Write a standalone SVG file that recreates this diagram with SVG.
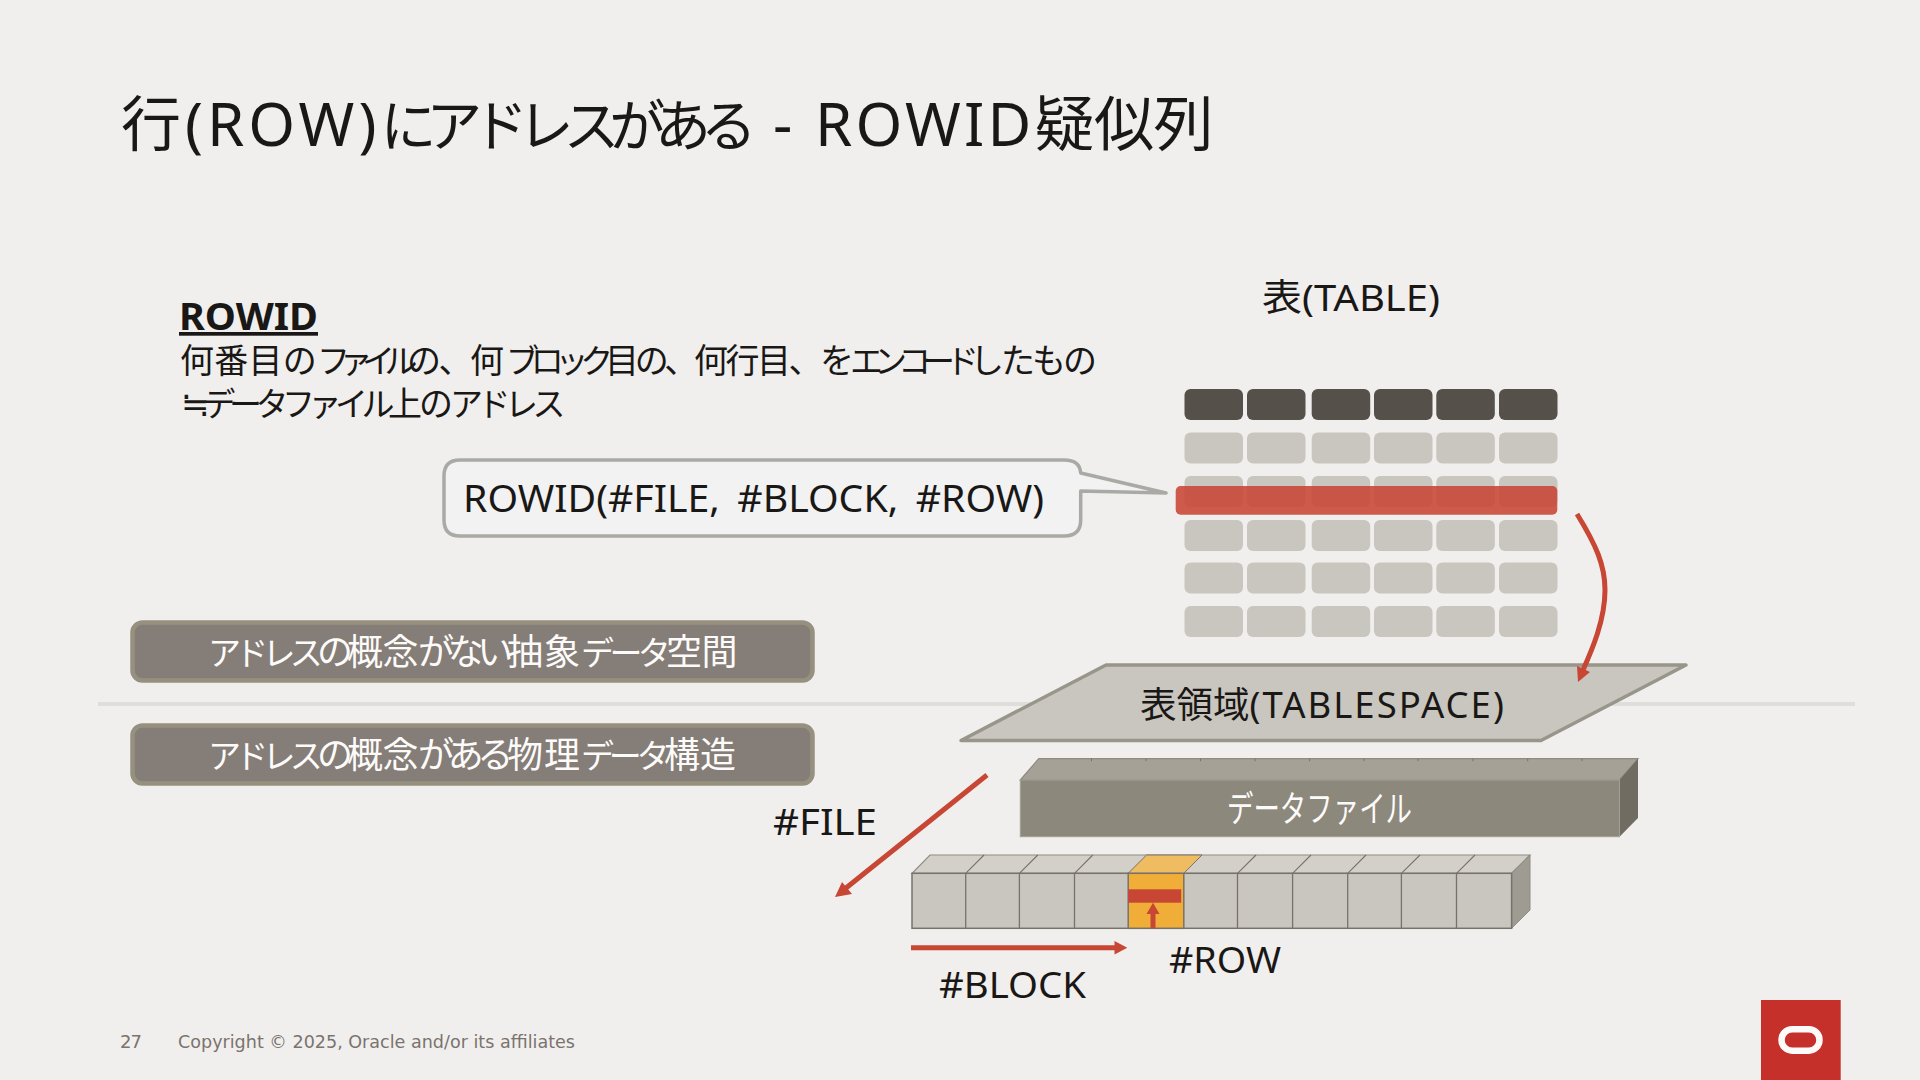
<svg xmlns="http://www.w3.org/2000/svg" xmlns:xlink="http://www.w3.org/1999/xlink" width="1920" height="1080" viewBox="0 0 1920 1080">
<defs>
<style>
text{font-family:"Noto Sans","Noto Sans CJK JP","DejaVu Sans",sans-serif;fill:#1a1816}
.w{fill:#fcfbf9}
.h{fill:#55504a}
.c{fill:#c9c6bf}
.btn{fill:#857d77;stroke:#96917f;stroke-width:4.500}
.bf{fill:#c9c6bf;stroke:#77736b;stroke-width:1.5}
.bt{fill:#d3d0ca;stroke:#8f8b82;stroke-width:1.2}
.red{stroke:#c74634;fill:none;stroke-width:5}
.redf{fill:#c74634}
</style>
<rect id="hc" class="h" width="58.5" height="31" rx="6"/>
<rect id="cc" class="c" width="58.5" height="31" rx="6"/>
</defs>
<rect id="background" width="1920" height="1080" fill="#f1efed"/>
<text id="title" x="121" y="146" font-size="60"><tspan letter-spacing="4">行(ROW)</tspan><tspan font-size="56" letter-spacing="-10.250">にアドレスがある</tspan><tspan letter-spacing="6"> </tspan><tspan dx="5" letter-spacing="3.500">- </tspan><tspan letter-spacing="3.200">ROWID</tspan><tspan letter-spacing="-.5">疑似列</tspan></text>
<g id="description">
<text x="179" y="330" font-size="37" font-weight="700" text-decoration="underline" textLength="139" lengthAdjust="spacingAndGlyphs">ROWID</text>
<text x="180" y="373" font-size="34"><tspan letter-spacing=".25">何番目の</tspan><tspan font-size="33" letter-spacing="-10.500">ファイル</tspan><tspan letter-spacing="-2.500">の、</tspan><tspan letter-spacing="2">何</tspan><tspan font-size="33" letter-spacing="-8.250">ブロック</tspan><tspan letter-spacing="-4.330">目の、</tspan><tspan letter-spacing="-2.500">何行目、</tspan><tspan letter-spacing="-4">を</tspan><tspan font-size="33" letter-spacing="-9">エンコード</tspan><tspan letter-spacing="-3">したもの</tspan></text>
<text x="181" y="416" font-size="34"><tspan letter-spacing="-7">≒</tspan><tspan font-size="33" letter-spacing="-6.500">データファイル</tspan><tspan letter-spacing="-3">上の</tspan><tspan font-size="33" letter-spacing="-5.500">アドレス</tspan></text>
</g>
<text id="table-label" x="1262" y="311" font-size="37" textLength="178" lengthAdjust="spacingAndGlyphs">表(TABLE)</text>
<g id="table">
<use xlink:href="#hc" x="1184.5" y="389"/><use xlink:href="#hc" x="1247" y="389"/><use xlink:href="#hc" x="1311.7" y="389"/><use xlink:href="#hc" x="1374" y="389"/><use xlink:href="#hc" x="1436.3" y="389"/><use xlink:href="#hc" x="1499" y="389"/>
<use xlink:href="#cc" x="1184.5" y="432.5"/><use xlink:href="#cc" x="1247" y="432.5"/><use xlink:href="#cc" x="1311.7" y="432.5"/><use xlink:href="#cc" x="1374" y="432.5"/><use xlink:href="#cc" x="1436.3" y="432.5"/><use xlink:href="#cc" x="1499" y="432.5"/>
<use xlink:href="#cc" x="1184.5" y="476"/><use xlink:href="#cc" x="1247" y="476"/><use xlink:href="#cc" x="1311.7" y="476"/><use xlink:href="#cc" x="1374" y="476"/><use xlink:href="#cc" x="1436.3" y="476"/><use xlink:href="#cc" x="1499" y="476"/>
<use xlink:href="#cc" x="1184.5" y="520"/><use xlink:href="#cc" x="1247" y="520"/><use xlink:href="#cc" x="1311.7" y="520"/><use xlink:href="#cc" x="1374" y="520"/><use xlink:href="#cc" x="1436.3" y="520"/><use xlink:href="#cc" x="1499" y="520"/>
<use xlink:href="#cc" x="1184.5" y="562.5"/><use xlink:href="#cc" x="1247" y="562.5"/><use xlink:href="#cc" x="1311.7" y="562.5"/><use xlink:href="#cc" x="1374" y="562.5"/><use xlink:href="#cc" x="1436.3" y="562.5"/><use xlink:href="#cc" x="1499" y="562.5"/>
<use xlink:href="#cc" x="1184.5" y="606"/><use xlink:href="#cc" x="1247" y="606"/><use xlink:href="#cc" x="1311.7" y="606"/><use xlink:href="#cc" x="1374" y="606"/><use xlink:href="#cc" x="1436.3" y="606"/><use xlink:href="#cc" x="1499" y="606"/>
<rect x="1175.7" y="486" width="381.6" height="28.7" rx="5" fill="#c74634" fill-opacity=".88"/>
</g>
<g id="rowid-callout">
<path d="M460 460H1064Q1080 460 1080.7 473L1166 493L1080.7 491V520Q1080.7 536 1064 536H460Q444 536 444 520V476Q444 460 460 460Z" fill="#f2f2f2" stroke="#a9a9a5" stroke-width="3.5" stroke-linejoin="round"/>
<text x="463" y="512" font-size="38" word-spacing="7" textLength="581" lengthAdjust="spacingAndGlyphs">ROWID(#FILE, #BLOCK, #ROW)</text>
</g>
<rect id="divider" x="98" y="702" width="1757" height="4" fill="#dfdedb"/>
<g id="abstract-label">
<rect class="btn" x="132.500" y="622.500" width="680" height="58" rx="10"/>
<text class="w" x="208" y="665" font-size="36"><tspan font-size="33" letter-spacing="-5.750">アドレス</tspan><tspan letter-spacing="-6">の</tspan><tspan letter-spacing="-.5">概念</tspan><tspan letter-spacing="-6.330">がない</tspan><tspan letter-spacing="1">抽象</tspan><tspan font-size="33" letter-spacing="-4.670">データ</tspan><tspan letter-spacing="-.5">空間</tspan></text>
</g>
<g id="physical-label">
<rect class="btn" x="132.500" y="725.500" width="680" height="58" rx="10"/>
<text class="w" x="208" y="768" font-size="36"><tspan font-size="33" letter-spacing="-5.750">アドレス</tspan><tspan letter-spacing="-6">の</tspan><tspan letter-spacing="-.5">概念</tspan><tspan letter-spacing="-6.330">がある</tspan><tspan letter-spacing="1">物理</tspan><tspan font-size="33" letter-spacing="-5.330">データ</tspan><tspan>構造</tspan></text>
</g>
<g id="tablespace">
<path d="M1106 665H1686L1541 740.500H961Z" fill="#c9c6bf" stroke="#98958a" stroke-width="3.500" stroke-linejoin="round"/>
<text x="1140" y="718" font-size="36.500"><tspan>表領域</tspan><tspan letter-spacing="2">(TABLESPACE)</tspan></text>
</g>
<g id="datafile">
<path d="M1020.300 780L1038.700 758.700H1638L1619.500 780Z" fill="#a5a197" stroke="#8f8b80" stroke-width="1.200"/>
<path d="M1091.500 758.700v2.500M1146 758.700v2.500M1200.500 758.700v2.500M1255 758.700v2.500M1309.600 758.700v2.500M1363.800 758.700v2.500M1418 758.700v2.500M1473 758.700v2.500M1527.700 758.700v2.500M1582 758.700v2.500" stroke="#77736b" stroke-width="1" fill="none"/>
<path d="M1619.500 780L1638 758.700V818L1619.500 836.700Z" fill="#706c62"/>
<rect x="1020.300" y="780" width="599.200" height="56.700" fill="#8c887c" stroke="#a3a095" stroke-width="1"/>
<text class="w" x="1227" y="822" font-size="36" textLength="185" lengthAdjust="spacingAndGlyphs">データファイル</text>
</g>
<g id="blocks">
<path d="M912 873.300L930 855H1530L1511.600 873.300Z" class="bt"/>
<path d="M1511.600 873.300L1530 855V910L1511.600 928.300Z" fill="#9e9b93" stroke="#8f8b82" stroke-width="1"/>
<rect class="bf" x="912" y="873.300" width="599.600" height="55"/>
<path d="M1128.200 873.300L1146.500 855H1202L1183.800 873.300Z" fill="#f0bc62" stroke="#77736b" stroke-width="1"/>
<rect x="1128.200" y="873.300" width="55.600" height="55" fill="#f0ae38" stroke="#77736b" stroke-width="1.500"/>
<path d="M965.700 873.300V928.300M1019.400 873.300V928.300M1074.500 873.300V928.300M1237.500 873.300V928.300M1292.600 873.300V928.300M1347.700 873.300V928.300M1401.400 873.300V928.300M1456.500 873.300V928.300" stroke="#77736b" stroke-width="1.300" fill="none"/>
<path d="M965.700 873.300L984 855M1019.400 873.300L1037.800 855M1074.500 873.300L1092.800 855M1237.500 873.300L1256 855M1292.600 873.300L1311 855M1347.700 873.300L1366 855M1401.400 873.300L1420 855M1456.500 873.300L1475 855" stroke="#77736b" stroke-width="1.100" fill="none"/>
<rect class="redf" x="1128.200" y="889.300" width="53" height="13.400"/>
</g>
<g id="connectors">
<path class="red" d="M1577 514C1596 545 1605 565 1605 590C1605 620 1592 650 1583 670"/>
<path class="redf" d="M1578 682L1577 666L1590 672Z"/>
<path class="red" d="M987 775L846 888"/>
<path class="redf" d="M835 897L842 882L852 894Z"/>
<path class="red" d="M911 947.700H1116"/>
<path class="redf" d="M1127.300 947.700L1114.500 941V954.400Z"/>
<path d="M1153 928.300V912" stroke="#c74634" stroke-width="5" fill="none"/>
<path class="redf" d="M1153 902.700L1146.500 914H1159.500Z"/>
</g>
<text id="file-label" x="773" y="835" font-size="37" textLength="104" lengthAdjust="spacingAndGlyphs">#FILE</text>
<text id="block-label" x="939" y="998" font-size="37" textLength="147" lengthAdjust="spacingAndGlyphs">#BLOCK</text>
<text id="row-label" x="1169" y="973" font-size="37" textLength="112" lengthAdjust="spacingAndGlyphs">#ROW</text>
<g id="footer">
<text x="120" y="1048" font-size="18" style="fill:#7a736e;font-family:'DejaVu Sans',sans-serif" textLength="22">27</text>
<text x="178" y="1048" font-size="18" style="fill:#7a736e;font-family:'DejaVu Sans',sans-serif" textLength="397" lengthAdjust="spacingAndGlyphs">Copyright © 2025, Oracle and/or its affiliates</text>
</g>
<g id="oracle-logo">
<rect x="1761" y="1000" width="79.700" height="80" fill="#c5302b"/>
<rect x="1781.500" y="1029.200" width="38" height="21.500" rx="10.700" fill="none" stroke="#fcfbf9" stroke-width="6.500"/>
</g>
</svg>
